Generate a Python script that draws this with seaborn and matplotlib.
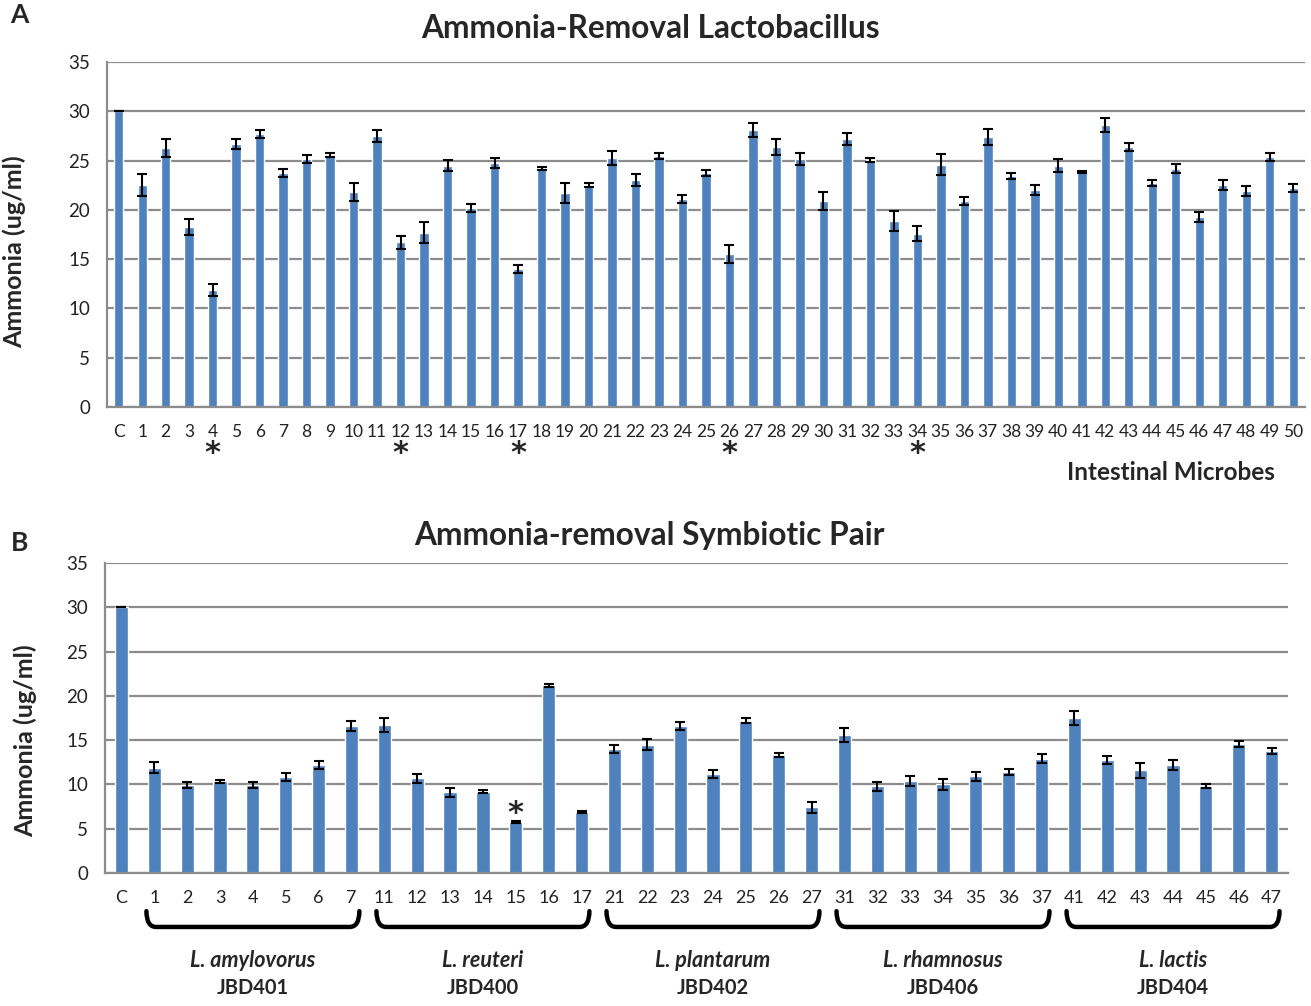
import numpy as np
import pandas as pd
import matplotlib.pyplot as plt
import matplotlib.transforms as mtransforms
from matplotlib.path import Path
from matplotlib.patches import PathPatch
import seaborn as sns

sns.set_style('white')
plt.rcParams['font.family'] = ['Lato', 'DejaVu Sans']

BAR_COLOR = '#4F81BD'
GRID_COLOR = '#8C8C8C'

# Panel A: single strains
strains_a = ['C'] + [str(i) for i in range(1, 51)]
ammonia_a = [30.0, 22.5, 26.3, 18.3, 11.9, 26.7, 27.7, 23.7, 25.2, 25.6,
             21.8, 27.5, 16.7, 17.7, 24.5, 20.2, 24.8, 14.0, 24.2, 21.7,
             22.5, 25.3, 23.0, 25.5, 21.1, 23.7, 15.5, 28.1, 26.4, 25.2,
             20.9, 27.2, 25.1, 18.9, 17.6, 24.6, 20.9, 27.4, 23.4, 22.0,
             24.5, 23.8, 28.6, 26.4, 22.7, 24.2, 19.3, 22.5, 21.9, 25.4, 22.2]
err_a = [0.0, 1.1, 0.9, 0.8, 0.6, 0.5, 0.4, 0.4, 0.4, 0.2,
         0.9, 0.6, 0.7, 1.05, 0.6, 0.4, 0.5, 0.4, 0.2, 1.0,
         0.2, 0.7, 0.6, 0.3, 0.4, 0.3, 0.9, 0.7, 0.8, 0.6,
         0.95, 0.6, 0.2, 1.0, 0.8, 1.1, 0.4, 0.8, 0.3, 0.5,
         0.7, 0.1, 0.7, 0.4, 0.3, 0.5, 0.5, 0.5, 0.5, 0.4, 0.4]
stars_a = ['4', '12', '17', '26', '34']

# Panel B: symbiotic pairs
strains_b = ['C', '1', '2', '3', '4', '5', '6', '7',
             '11', '12', '13', '14', '15', '16', '17',
             '21', '22', '23', '24', '25', '26', '27',
             '31', '32', '33', '34', '35', '36', '37',
             '41', '42', '43', '44', '45', '46', '47']
ammonia_b = [30.0, 11.9, 9.9, 10.35, 9.9, 10.8, 12.2, 16.6,
             16.7, 10.7, 9.1, 9.2, 5.75, 21.2, 6.9,
             14.0, 14.5, 16.6, 11.2, 17.2, 13.3, 7.4,
             15.6, 9.8, 10.4, 10.0, 10.9, 11.4, 12.9,
             17.5, 12.8, 11.6, 12.2, 9.8, 14.6, 13.8]
err_b = [0.0, 0.65, 0.35, 0.15, 0.35, 0.45, 0.5, 0.55,
         0.75, 0.5, 0.5, 0.2, 0.1, 0.15, 0.1,
         0.4, 0.6, 0.5, 0.45, 0.25, 0.2, 0.6,
         0.8, 0.5, 0.6, 0.6, 0.55, 0.3, 0.5,
         0.8, 0.45, 0.85, 0.6, 0.25, 0.35, 0.35]
stars_b = ['15']
group_species = ['L. amylovorus', 'L. reuteri', 'L. plantarum', 'L. rhamnosus', 'L. lactis']
group_codes = ['JBD401', 'JBD400', 'JBD402', 'JBD406', 'JBD404']
group_members = [strains_b[1:8], strains_b[8:15], strains_b[15:22], strains_b[22:29], strains_b[29:36]]


def draw_panel(ax, labels, values, errs, xsize):
    df = pd.DataFrame({'strain': labels, 'ammonia': values})
    sns.barplot(data=df, x='strain', y='ammonia', order=labels, color=BAR_COLOR,
                saturation=1, width=0.4, errorbar=None, ax=ax)
    ax.errorbar(np.arange(len(labels)), values, yerr=errs, fmt='none',
                ecolor='black', elinewidth=1.5, capsize=3.5, capthick=1.5, zorder=3)
    ax.set_ylim(0, 35)
    ax.set_yticks(range(0, 36, 5))
    ax.set_xlim(-0.5, len(labels) - 0.5)
    ax.yaxis.grid(True, color=GRID_COLOR, linewidth=1.6)
    ax.set_axisbelow(True)
    for side in ['top', 'right']:
        ax.spines[side].set_visible(False)
    for side in ['left', 'bottom']:
        ax.spines[side].set_color(GRID_COLOR)
        ax.spines[side].set_linewidth(1.6)
    ax.tick_params(axis='both', length=0, colors='#222222')
    ax.tick_params(axis='x', pad=12, labelsize=xsize)
    ax.tick_params(axis='y', pad=12, labelsize=13.5)
    ax.set_xlabel('')
    ax.set_ylabel('')


fig = plt.figure(figsize=(13.11, 10.06), dpi=100)
ax_a = fig.add_axes([0.0816, 0.5954, 0.9138, 0.3429])
ax_b = fig.add_axes([0.0801, 0.1322, 0.9024, 0.3082])

draw_panel(ax_a, strains_a, ammonia_a, err_a, 12.5)
draw_panel(ax_b, strains_b, ammonia_b, err_b, 13)

# asterisks under panel A ticks
trans_a = mtransforms.blended_transform_factory(ax_a.transData, ax_a.transAxes)
for s in stars_a:
    ax_a.text(strains_a.index(s), -0.135, '*', transform=trans_a, ha='center', va='center',
              fontsize=22, fontweight='bold', family='DejaVu Sans')
ax_a.text(0.888, -0.19, 'Intestinal Microbes', transform=ax_a.transAxes, ha='center',
          va='center', fontsize=17.5, fontweight='bold')

# asterisk above panel B bar
for s in stars_b:
    i = strains_b.index(s)
    ax_b.text(i, ammonia_b[i] + err_b[i] + 0.9, '*', ha='center', va='center',
              fontsize=22, fontweight='bold', family='DejaVu Sans')

# braces and group labels under panel B
trans_b = mtransforms.blended_transform_factory(ax_b.transData, ax_b.transAxes)
for members, species, code in zip(group_members, group_species, group_codes):
    x0 = strains_b.index(members[0]) - 0.24
    x1 = strains_b.index(members[-1]) + 0.24
    top, bot = -0.123, -0.174
    verts = [(x0, top), (x0, bot), (x0 + 0.3, bot), (x1 - 0.3, bot), (x1, bot), (x1, top)]
    codes = [Path.MOVETO, Path.CURVE3, Path.CURVE3, Path.LINETO, Path.CURVE3, Path.CURVE3]
    ax_b.add_patch(PathPatch(Path(verts, codes), transform=trans_b, fill=False,
                             lw=3.2, edgecolor='black', clip_on=False, capstyle='round'))
    xc = (strains_b.index(members[0]) + strains_b.index(members[-1])) / 2
    ax_b.text(xc, -0.283, species, transform=trans_b, ha='center', va='center',
              fontsize=15.5, fontweight='bold', fontstyle='italic')
    ax_b.text(xc, -0.37, code, transform=trans_b, ha='center', va='center',
              fontsize=14.5, fontweight='bold')

# titles, labels, panel letters
fig.text(0.496, 0.972, 'Ammonia-Removal Lactobacillus', ha='center', va='center',
         fontsize=22.8, fontweight='bold')
fig.text(0.495, 0.468, 'Ammonia-removal Symbiotic Pair', ha='center', va='center',
         fontsize=22.8, fontweight='bold')
fig.text(0.011, 0.75, 'Ammonia (ug/ml)', rotation=90, ha='center', va='center',
         fontsize=18, fontweight='bold')
fig.text(0.019, 0.264, 'Ammonia (ug/ml)', rotation=90, ha='center', va='center',
         fontsize=18, fontweight='bold')
fig.text(0.008, 0.985, 'A', ha='left', va='center', fontsize=19, fontweight='bold')
fig.text(0.008, 0.46, 'B', ha='left', va='center', fontsize=19, fontweight='bold')

fig.savefig('out.png', dpi=100, facecolor='white')
